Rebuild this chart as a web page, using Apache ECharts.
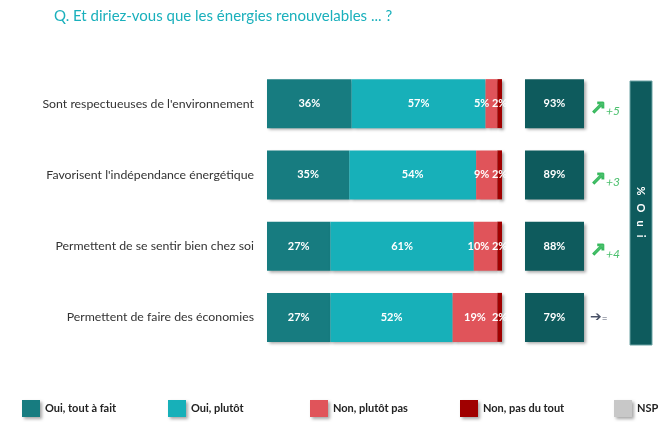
<!DOCTYPE html>
<html><head><meta charset="utf-8">
<script src="https://cdn.jsdelivr.net/npm/echarts@6/dist/echarts.min.js"></script>
<style>html,body{margin:0;padding:0;background:#fff}#c{width:669px;height:422px}</style>
</head><body><div id="c"></div>
<script>
const categories = ["Sont respectueuses de l'environnement","Favorisent l'indépendance énergétique","Permettent de se sentir bien chez soi","Permettent de faire des économies"];
const ouiTout = [36,35,27,27];
const ouiPlutot = [57,54,61,52];
const nonPlutot = [5,9,10,19];
const nonPasDuTout = [2,2,2,2];
const nsp = [0,0,0,0];
const totalOui = [93,89,88,79];
const evolution = ["+5","+3","+4","="];
const seriesNames = ["Oui, tout à fait","Oui, plutôt","Non, plutôt pas","Non, pas du tout","NSP"];
const colors = ["#177c80","#17b0b9","#e0545a","#a00000","#c8c8c8"];

const chart = echarts.init(document.getElementById('c'));
const FONT = 'Lato';
const gridTop = 68, gridH = 285;
const shadow = {shadowColor:'rgba(0,0,0,0.35)', shadowBlur:3, shadowOffsetX:2, shadowOffsetY:2};
const segData = [ouiTout, ouiPlutot, nonPlutot, nonPasDuTout, nsp];

const series = segData.map((arr, i) => ({
  name: seriesNames[i], type:'bar', stack:'s', xAxisIndex:0, yAxisIndex:0,
  barWidth:49, data: arr,
  itemStyle: Object.assign({color: colors[i]}, shadow),
  label: {show: i < 4, position:'inside', color:'#fff', fontWeight:'bold', fontSize:11, fontFamily:FONT,
    formatter: p => p.value > 0 ? p.value + '%' : ''},
  labelLayout: i === 2 ? function(p){
    const limit = p.rect.x + p.rect.width - 8;
    const right = p.labelRect.x + p.labelRect.width;
    return right > limit ? {dx: limit - right} : {};
  } : undefined
}));

series.push({
  type:'bar', xAxisIndex:1, yAxisIndex:1, barWidth:49,
  data: totalOui.map(v => ({value:1, total:v})),
  itemStyle: Object.assign({color:'#0e5b5d'}, shadow),
  label:{show:true, position:'inside', color:'#fff', fontWeight:'bold', fontSize:11, fontFamily:FONT,
    formatter: p => totalOui[p.dataIndex] + '%'}
});

series.push({
  type:'scatter', xAxisIndex:2, yAxisIndex:2, symbolSize:0,
  data: evolution.map((e, i) => [0, i]),
  label:{show:true, position:'right', distance:0,
    formatter: p => {const e = evolution[p.dataIndex]; return e === '=' ? '{n|➔}{m|=}' : '{g|↗}{h|' + e + '}';},
    rich:{
      g:{color:'#1fb04a', fontSize:19, fontWeight:'bold', fontFamily:'DejaVu Sans', textBorderColor:'#1fb04a', textBorderWidth:1, padding:[10,0,0,0]},
      h:{color:'#1fb04a', fontSize:12, fontStyle:'italic', fontFamily:FONT, padding:[15,0,0,0]},
      n:{color:'#1b2540', fontSize:14, fontFamily:'DejaVu Sans'},
      m:{color:'#1b2540', fontSize:10, fontFamily:FONT, padding:[3,0,0,0]}
    }}
});

const legendPos = [17,163,305,455,609];
const legends = seriesNames.map((n, i) => ({
  data:[n], left: legendPos[i], top: 395, itemWidth:18, itemHeight:17, itemGap:0,
  icon:'rect', selectedMode:false,
  itemStyle: shadow,
  textStyle:{fontFamily:FONT, fontWeight:'bold', fontSize:11, color:'#222', padding:[2,0,0,0]}
}));

chart.setOption({
  animation:false,
  title:{text:'Q. Et diriez-vous que les énergies renouvelables ... ?', left:49, top:4,
    textStyle:{fontFamily:FONT, fontWeight:'normal', fontSize:15, color:'#1ab0bc'}},
  legend: legends,
  grid:[
    {left:267, width:235, top:gridTop, height:gridH},
    {left:525, width:59, top:gridTop, height:gridH},
    {left:590, width:30, top:gridTop, height:gridH}
  ],
  xAxis:[
    {gridIndex:0, type:'value', min:0, max:100, show:false},
    {gridIndex:1, type:'value', min:0, max:1, show:false},
    {gridIndex:2, type:'value', min:0, max:1, show:false}
  ],
  yAxis:[
    {gridIndex:0, type:'category', data:categories, inverse:true,
      axisLine:{show:false}, axisTick:{show:false}, splitLine:{show:false},
      axisLabel:{fontFamily:FONT, fontSize:12.3, color:'#333', margin:13}},
    {gridIndex:1, type:'category', data:categories, inverse:true, show:false},
    {gridIndex:2, type:'value', min:-0.5, max:3.5, inverse:true, show:false}
  ],
  series: series,
  graphic:[
    {type:'rect', shape:{x:630, y:81, width:22, height:264},
      style:{fill:'#0e5b5d', stroke:'#6aa3a4', lineWidth:1}},
    {type:'text', x:641, y:212, rotation:-Math.PI/2,
      style:{text:'%   O   u   i', fill:'#fff', font:'bold 11px Lato', align:'center', verticalAlign:'middle'}}
  ]
});
</script></body></html>
